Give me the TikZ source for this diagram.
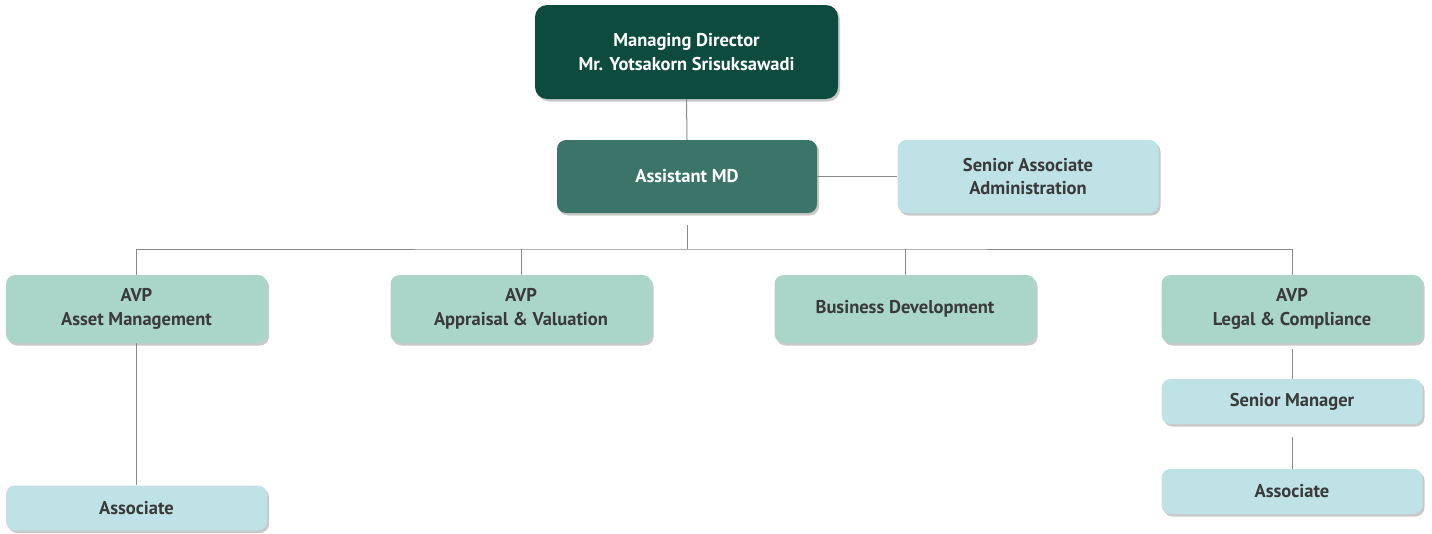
\documentclass[tikz,border=0pt]{standalone}
\usepackage{fontspec}
\setmainfont{PT Sans}
\usetikzlibrary{shadows,positioning}
\definecolor{mdgreen}{HTML}{0D4B3E}
\definecolor{amdgreen}{HTML}{3B7469}
\definecolor{avpgreen}{HTML}{AAD6CA}
\definecolor{staffblue}{HTML}{BEE2E5}
\definecolor{textgray}{HTML}{3A3A3A}
\definecolor{linegray}{HTML}{8A8A8A}
\tikzset{
	box/.style = {shape=rectangle, rounded corners=9pt, align=center,
		inner sep=0pt, text=textgray,
		font=\fontsize{18.5}{23.5}\selectfont\bfseries,
		drop shadow={shadow xshift=2pt, shadow yshift=-2.5pt,
			opacity=0.3, fill=black!70}},
	topbox/.style = {box, fill=mdgreen, text=white, rounded corners=12pt,
		minimum width=303pt, minimum height=94pt},
	amdbox/.style = {box, fill=amdgreen, text=white,
		minimum width=260pt, minimum height=73pt},
	avpbox/.style = {box, fill=avpgreen,
		minimum width=261pt, minimum height=68pt},
	staffbox/.style = {box, fill=staffblue,
		minimum width=261pt, minimum height=45pt},
	link/.style = {draw=linegray, line width=1pt}
}
\begin{document}
\begin{tikzpicture}[x=1pt, y=1pt]
	\useasboundingbox (0,0) rectangle (1432,-533);
	% top of the chart
	\node[topbox] (md) at (686.5,-52) {Managing Director
		\\Mr. Yotsakorn Srisuksawadi};
	\node[amdbox] (amd) at (687,-176.5) {Assistant MD};
	\node[staffbox, minimum height=73pt] (admin) at (1028,-176.5) {Senior Associate
		\\Administration};
	% second row
	\node[avpbox] (asset) at (136.5,-309) {AVP
		\\Asset Management};
	\node[avpbox] (appraisal) at (521,-309) {AVP
		\\Appraisal \& Valuation};
	\node[avpbox] (bizdev) at (905,-309) {Business Development};
	\node[avpbox] (legal) at (1292,-309) {AVP
		\\Legal \& Compliance};
	% staff under the AVPs
	\node[staffbox] (assoc1) at (136.5,-508) {Associate};
	\node[staffbox] (srmgr) at (1292,-401.5) {Senior Manager};
	\node[staffbox] (assoc2) at (1292,-491.5) {Associate};
	\coordinate (bus) at (687,-249);
	% connectors
	\draw[link] (md.south) -- (amd.north);
	\draw[link] (amd.east) -- (admin.west);
	\draw[link, shorten <=12pt] (amd.south) -- (bus);
	\draw[link] (asset.north) |- (bus) -| (legal.north);
	\draw[link] (appraisal.north) -- (appraisal.north |- bus);
	\draw[link] (bizdev.north) -- (bizdev.north |- bus);
	\draw[link] (asset.south) -- (assoc1.north);
	\draw[link, shorten <=6pt] (legal.south) -- (srmgr.north);
	\draw[link, shorten <=13pt] (srmgr.south) -- (assoc2.north);
\end{tikzpicture}
\end{document}
